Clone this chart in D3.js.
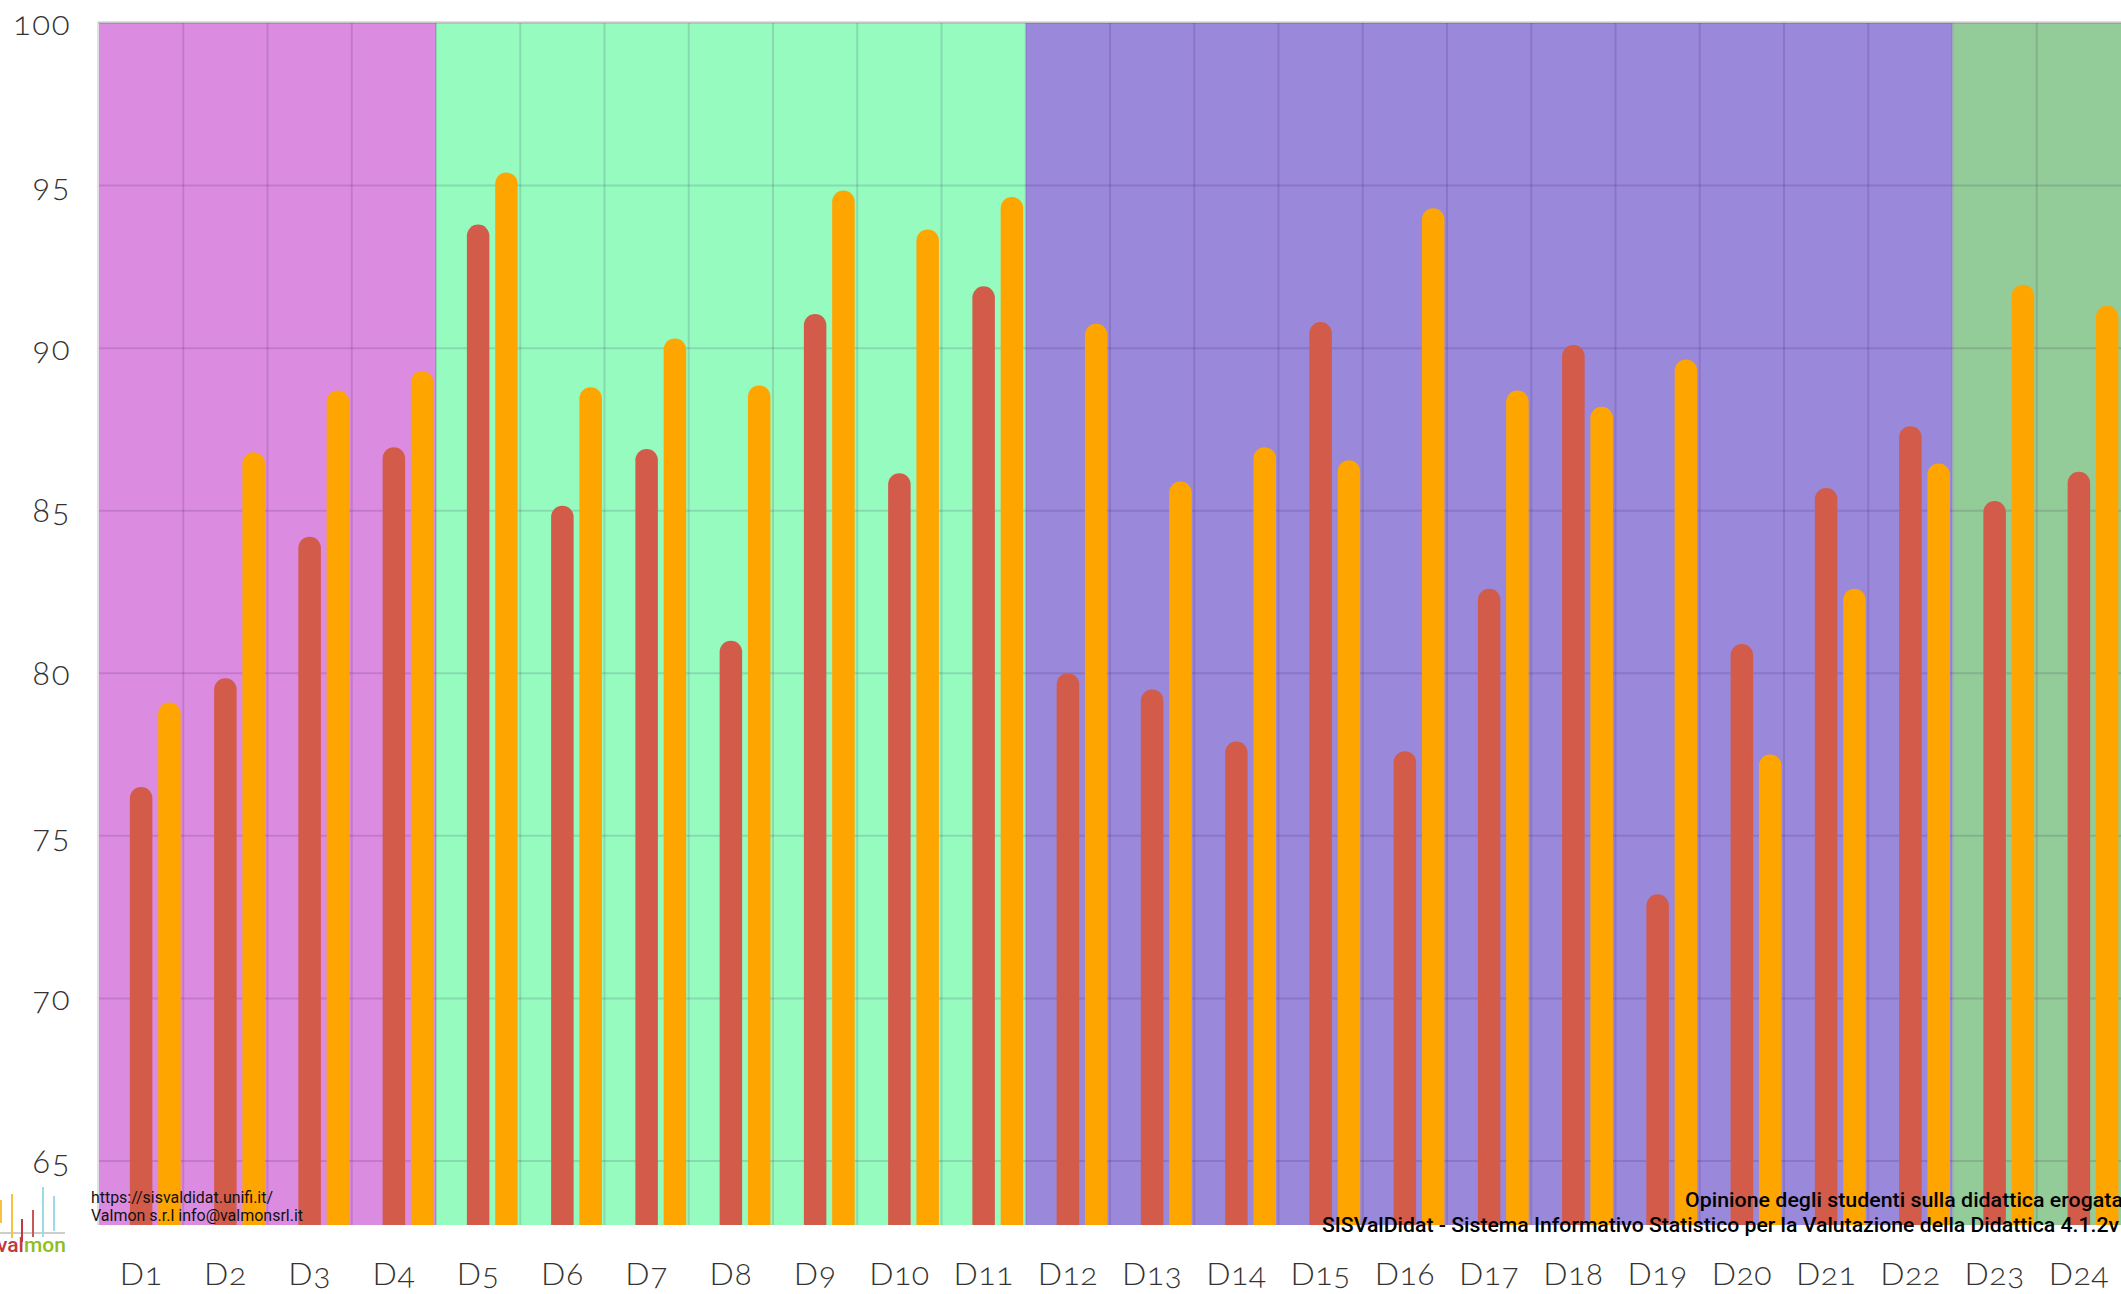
<!DOCTYPE html>
<html>
<head>
<meta charset="utf-8">
<script src="https://cdn.jsdelivr.net/npm/d3@7"></script>
<style>
  html, body { margin: 0; padding: 0; background: #ffffff; }
  svg { display: block; }
</style>
</head>
<body>
<svg id="chart" width="2121" height="1294"></svg>
<script>
// ---------------- data ----------------
const categories = ["D1","D2","D3","D4","D5","D6","D7","D8","D9","D10","D11","D12",
                    "D13","D14","D15","D16","D17","D18","D19","D20","D21","D22","D23","D24"];
const seriesA = [76.5, 79.85, 84.2, 86.95, 93.8, 85.15, 86.9, 81.0, 91.05, 86.15, 91.9, 80.0,
                 79.5, 77.9, 90.8, 77.6, 82.6, 90.1, 73.2, 80.9, 85.7, 87.6, 85.3, 86.2];
const seriesB = [79.1, 86.8, 88.7, 89.3, 95.4, 88.8, 90.3, 88.85, 94.85, 93.65, 94.65, 90.75,
                 85.9, 86.95, 86.55, 94.3, 88.7, 88.2, 89.65, 77.5, 82.6, 86.45, 91.95, 91.3];
const yTicks = [100, 95, 90, 85, 80, 75, 70, 65];
const groupStart = ["D1", "D5", "D12", "D23"];
const groupEnd   = ["D4", "D11", "D22", "D24"];
const groupColor = ["#DB8CE0", "#95FBBF", "#9A88DB", "#93CC99"];
const colorA = "#D35B4A";
const colorB = "#FFA500";
const footerLeft = ["https://sisvaldidat.unifi.it/", "Valmon s.r.l info@valmonsrl.it"];
const footerRight = ["Opinione degli studenti sulla didattica erogata",
                     "SISValDidat - Sistema Informativo Statistico per la Valutazione della Didattica 4.1.2v"];

// ---------------- layout ----------------
const svg = d3.select("#chart");
const L = 99, R = 2121, T = 23, B = 1225;
const x = d3.scaleBand().domain(categories).range([L, R]).padding(0);
const y = d3.scaleLinear().domain([63, 100]).range([B + 1, T]);
const bw = x.bandwidth();
const barW = 22.5;
const offB = bw * 0.336;

// background bands
const bands = svg.append("g");
groupStart.forEach((s, i) => {
  const x0 = x(s), x1 = x(groupEnd[i]) + bw;
  bands.append("rect").attr("x", x0).attr("y", T).attr("width", x1 - x0).attr("height", B - T)
    .attr("fill", groupColor[i]);
});

// grid
const grid = svg.append("g").attr("stroke", "rgba(40,0,60,0.13)").attr("stroke-width", 2);
yTicks.forEach(t => {
  grid.append("line").attr("x1", L).attr("x2", R).attr("y1", y(t)).attr("y2", y(t));
});
categories.forEach((c, i) => {
  if (i === 0) return;
  grid.append("line").attr("x1", x(c)).attr("x2", x(c)).attr("y1", T).attr("y2", B);
});
// light frame
svg.append("line").attr("x1", L - 1).attr("x2", L - 1).attr("y1", T - 1).attr("y2", B)
  .attr("stroke", "rgba(0,0,0,0.12)").attr("stroke-width", 2);
svg.append("line").attr("x1", L - 1).attr("x2", R).attr("y1", T - 1).attr("y2", T - 1)
  .attr("stroke", "rgba(0,0,0,0.12)").attr("stroke-width", 2);

// bars with rounded tops
function barPath(cx, v) {
  const r = barW / 2;
  const x0 = cx - r, x1 = cx + r, top = y(v);
  return `M${x0},${B} L${x0},${top + r} A${r},${r} 0 0 1 ${x1},${top + r} L${x1},${B} Z`;
}
const bars = svg.append("g");
bars.selectAll("path.a").data(categories).join("path").attr("class", "a")
  .attr("d", (c, i) => barPath(x(c) + bw / 2, seriesA[i])).attr("fill", colorA);
bars.selectAll("path.b").data(categories).join("path").attr("class", "b")
  .attr("d", (c, i) => barPath(x(c) + bw / 2 + offB, seriesB[i])).attr("fill", colorB);

// axes labels
const labelFont = "Lato, 'Open Sans', sans-serif";
const yAxis = d3.axisLeft(y).tickValues(yTicks).tickSize(0).tickPadding(0);
const gy = svg.append("g").attr("transform", "translate(71,0)").call(yAxis);
gy.select(".domain").remove();
gy.selectAll("text").attr("font-family", labelFont).attr("font-size", 33).attr("font-weight", 300)
  .attr("letter-spacing", 1.5)
  .attr("fill", "#333").style("font-feature-settings", "'onum' 1").attr("dy", "0.34em");

const xAxis = d3.axisBottom(x).tickSize(0).tickPadding(0);
const gx = svg.append("g").attr("transform", `translate(0,${1285})`).call(xAxis);
gx.select(".domain").remove();
gx.selectAll("text").attr("font-family", labelFont).attr("font-size", 32).attr("font-weight", 300)
  .attr("letter-spacing", 0.5)
  .attr("fill", "#333").attr("dy", 0).style("font-feature-settings", "'onum' 1");

// footer left
const fl = svg.append("g").attr("font-family", "Roboto, sans-serif").attr("font-size", 16).attr("fill", "#111");
fl.append("text").attr("x", 91).attr("y", 1203).attr("textLength", 182).attr("lengthAdjust", "spacingAndGlyphs").text(footerLeft[0]);
fl.append("text").attr("x", 91).attr("y", 1221).attr("textLength", 212).attr("lengthAdjust", "spacingAndGlyphs").text(footerLeft[1]);

// footer right
const fr = svg.append("g").attr("font-family", "Roboto, sans-serif").attr("font-size", 21)
  .attr("font-weight", 500).attr("fill", "#000");
fr.append("text").attr("x", 1685).attr("y", 1207).attr("textLength", 438).attr("lengthAdjust", "spacingAndGlyphs").text(footerRight[0]);
fr.append("text").attr("x", 1322).attr("y", 1232).attr("textLength", 797).attr("lengthAdjust", "spacingAndGlyphs").text(footerRight[1]);

// logo
const logo = svg.append("g");
logo.append("line").attr("x1", 0).attr("x2", 65).attr("y1", 1233).attr("y2", 1233).attr("stroke", "#9a9a9a").attr("stroke-width", 1);
const logoLines = [[1, 1200, 1223, "#F7C23E"], [12, 1194, 1238, "#F7C23E"], [22, 1219, 1242, "#C0393B"],
                   [33, 1210, 1237, "#C9575A"], [43, 1187, 1237, "#9ADBE6"], [54, 1196, 1231, "#9ADBE6"]];
logoLines.forEach(d => logo.append("line").attr("x1", d[0]).attr("x2", d[0]).attr("y1", d[1]).attr("y2", d[2])
  .attr("stroke", d[3]).attr("stroke-width", 2));
const lt = logo.append("text").attr("x", -3).attr("y", 1252).attr("font-family", "Roboto, sans-serif")
  .attr("font-size", 21).attr("font-weight", 500);
lt.append("tspan").attr("fill", "#C0393B").text("val");
lt.append("tspan").attr("fill", "#8DBE22").text("mon");
</script>
</body>
</html>
